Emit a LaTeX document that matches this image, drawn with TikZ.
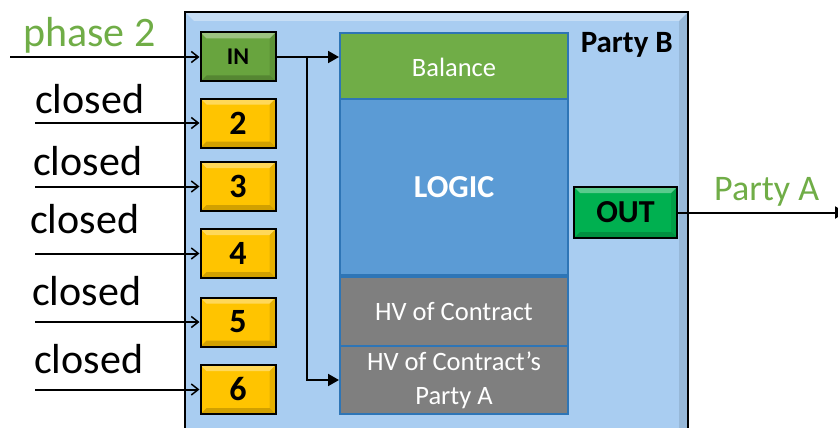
\documentclass[tikz,border=0pt]{standalone}
\usepackage{fontspec}
\setmainfont{Carlito}
\usetikzlibrary{arrows.meta,positioning}
\definecolor{paneblue}{RGB}{169,205,241}
\definecolor{leafgreen}{RGB}{112,173,71}
\definecolor{logicblue}{RGB}{91,155,213}
\definecolor{hvgrey}{RGB}{127,127,127}
\definecolor{rimblue}{RGB}{46,117,182}
\definecolor{ingreen}{RGB}{104,164,62}
\definecolor{outgreen}{RGB}{0,176,80}
\definecolor{gold}{RGB}{255,196,0}
\tikzset{
	bevel/.style={path picture={
		\fill[white,opacity=.35](path picture bounding box.north west)--(path picture bounding box.north east)--([shift={(-#1,-#1)}]path picture bounding box.north east)--([shift={(#1,-#1)}]path picture bounding box.north west)--cycle;
		\fill[black,opacity=.18](path picture bounding box.south west)--(path picture bounding box.south east)--([shift={(-#1,#1)}]path picture bounding box.south east)--([shift={(#1,#1)}]path picture bounding box.south west)--cycle;
		\fill[black,opacity=.1](path picture bounding box.north east)--(path picture bounding box.south east)--([shift={(-#1,#1)}]path picture bounding box.south east)--([shift={(-#1,-#1)}]path picture bounding box.north east)--cycle;}},
	bevel/.default=6pt,
	port/.style={draw=black,line width=2pt,bevel,inner sep=0pt,minimum width=75pt,minimum height=49pt,font=\bfseries\fontsize{34}{34}\selectfont},
	cell/.style={draw=rimblue,line width=2pt,text=white,minimum width=228pt,inner sep=0pt,align=center,font=\fontsize{26.5}{34}\selectfont},
	lbl/.style={anchor=base west,inner sep=0pt,font=\fontsize{42}{42}\selectfont},
	feed/.style={line width=2pt,-{Straight Barb[length=7pt,width=11pt,line width=1.5pt]}},
	flow/.style={line width=2pt,-{Triangle[length=11pt,width=12pt]}}
}
\begin{document}
\begin{tikzpicture}[x=1pt,y=-1pt]
	\useasboundingbox(0,0)rectangle(838,428);
	\clip(0,0)rectangle(838,428);
	\node[draw=black,line width=2.5pt,fill=paneblue,bevel=9pt,minimum width=503pt,minimum height=450pt,inner sep=0pt](board)at(436.5,237){};
	\node[anchor=base east,inner sep=0pt,font=\bfseries\fontsize{31}{31}\selectfont](partyb)at(673,53){Party B};
	\node[port,fill=ingreen,font=\bfseries\fontsize{24}{24}\selectfont](in)at(238,57){IN};
	\node[port,fill=gold](p2)at(238,123){2};
	\node[port,fill=gold](p3)at(238,186.5){3};
	\node[port,fill=gold](p4)at(238,253.5){4};
	\node[port,fill=gold](p5)at(238,322){5};
	\node[port,fill=gold](p6)at(238,389.5){6};
	\node[cell,fill=leafgreen,minimum height=68pt](bal)at(454,67){Balance};
	\node[cell,fill=logicblue,minimum height=176pt,font=\bfseries\fontsize{32}{32}\selectfont](logic)at(454,187){LOGIC};
	\node[cell,fill=hvgrey,minimum height=69pt](hv)at(454,311.5){HV of Contract};
	\node[cell,fill=hvgrey,minimum height=68pt](hvp)at(454,380){HV of Contract’s\\Party A};
	\node[port,fill=outgreen,minimum width=103pt,minimum height=51pt,font=\bfseries\fontsize{32}{32}\selectfont](out)at(625.5,212.5){OUT};
	\node[lbl,text=leafgreen](lph)at(23,47){phase 2};
	\node[lbl](l2)at(35,113){closed};
	\node[lbl](l3)at(33,175){closed};
	\node[lbl](l4)at(30,233){closed};
	\node[lbl](l5)at(32,305){closed};
	\node[lbl](l6)at(34,373){closed};
	\node[anchor=base west,inner sep=0pt,text=leafgreen,font=\fontsize{36}{36}\selectfont](pa)at(714,200){Party A};
	\coordinate(s1)at(10,57);
	\coordinate(s2)at(35,123);
	\coordinate(s3)at(35,186.5);
	\coordinate(s4)at(35,253.5);
	\coordinate(s5)at(35,322);
	\coordinate(s6)at(35,389.5);
	\coordinate(fork)at(307,57);
	\coordinate(sink)at(846,212.5);
	\draw[feed](s1)--(in);
	\draw[feed](s2)--(p2);
	\draw[feed](s3)--(p3);
	\draw[feed](s4)--(p4);
	\draw[feed](s5)--(p5);
	\draw[feed](s6)--(p6);
	\draw[flow](in)--(in-|bal.west);
	\draw[flow](fork)|-(hvp.west);
	\draw[flow](out)--(sink);
\end{tikzpicture}
\end{document}
